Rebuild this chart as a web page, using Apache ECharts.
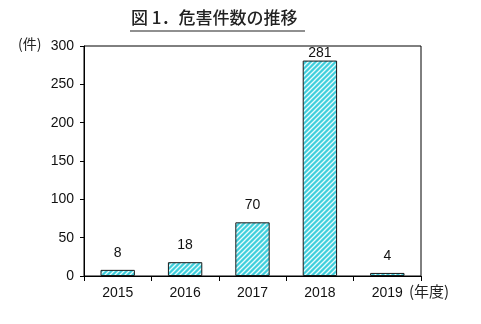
<!DOCTYPE html>
<html>
<head>
<meta charset="utf-8">
<script src="https://cdn.jsdelivr.net/npm/echarts@6/dist/echarts.min.js"></script>
<style>
html,body{margin:0;padding:0;background:#fff;}
#chart{width:481px;height:324px;}
</style>
</head>
<body>
<div id="chart"></div>
<script>
const years = ['2015', '2016', '2017', '2018', '2019'];
const cases = [8, 18, 70, 281, 4];
const yTicks = { min: 0, max: 300, interval: 50 };

// diagonal hatch fill for the bars
function hatch() {
  const c = document.createElement('canvas');
  c.width = 5; c.height = 5;
  const g = c.getContext('2d');
  g.fillStyle = '#3fcfdc';
  g.fillRect(0, 0, 5, 5);
  g.strokeStyle = '#e8fbfd';
  g.lineWidth = 1.3;
  g.beginPath();
  g.moveTo(-1, 6); g.lineTo(6, -1);
  g.moveTo(-1, 1); g.lineTo(1, -1);
  g.moveTo(4, 6); g.lineTo(6, 4);
  g.stroke();
  return c;
}

const font = '"Liberation Sans", sans-serif';
const cjk = '"Noto Sans CJK JP", sans-serif';
const chart = echarts.init(document.getElementById('chart'));
chart.setOption({
  animation: false,
  grid: { left: 84, right: 60, top: 46, bottom: 48, show: true, borderColor: '#000', borderWidth: 1 },
  graphic: [
    { type: 'text', left: 131, top: 9,
      style: { text: '図 1．危害件数の推移', fontSize: 17, fontWeight: 500,
               fontFamily: cjk, fill: '#222' } },
    { type: 'line', shape: { x1: 130, y1: 31, x2: 305, y2: 31 }, style: { stroke: '#222', lineWidth: 1.2 } },
    { type: 'text', left: 18, top: 37,
      style: { text: '(件)', fontSize: 14, fontFamily: cjk, fill: '#222' } },
    { type: 'text', left: 409, top: 284,
      style: { text: '(年度)', fontSize: 15, fontFamily: cjk, fill: '#222' } }
  ],
  xAxis: {
    type: 'category', data: years,
    axisLine: { lineStyle: { color: '#000' } },
    axisTick: { show: true, length: 5, lineStyle: { color: '#000' } },
    axisLabel: { color: '#111', fontSize: 14, fontFamily: font, margin: 10 }
  },
  yAxis: {
    type: 'value', min: yTicks.min, max: yTicks.max, interval: yTicks.interval,
    splitLine: { show: false },
    axisLine: { show: true, lineStyle: { color: '#000' } },
    axisTick: { show: true, length: 4, lineStyle: { color: '#000' } },
    axisLabel: { color: '#111', fontSize: 14, fontFamily: font, margin: 10 }
  },
  series: [{
    type: 'bar', barWidth: '51%',
    data: cases.map(v => v > 250 ? { value: v, label: { distance: 0 } } : v),
    itemStyle: { color: { image: hatch(), repeat: 'repeat' }, borderColor: '#1a1a1a', borderWidth: 1 },
    label: { show: true, position: 'top', distance: 10, color: '#111', fontSize: 14, fontFamily: font }
  }]
});
</script>
</body>
</html>
